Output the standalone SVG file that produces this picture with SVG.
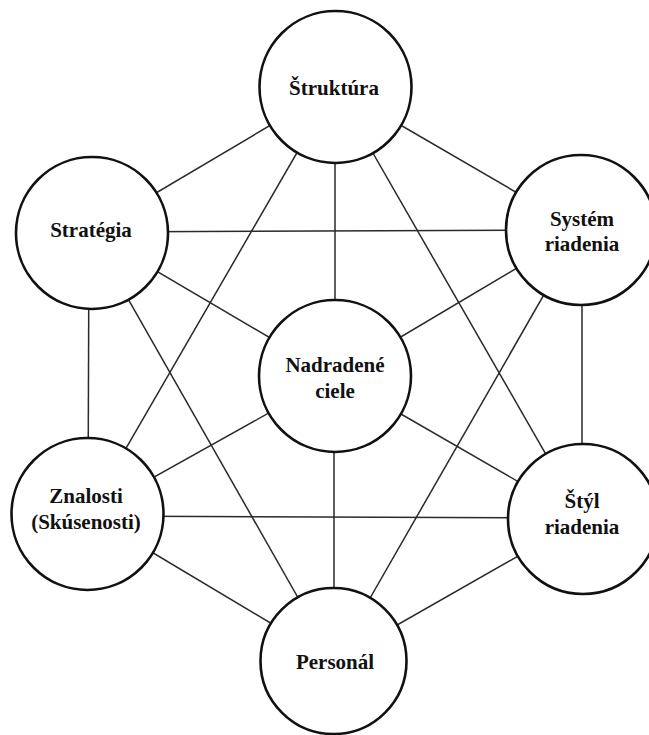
<svg xmlns="http://www.w3.org/2000/svg" width="649" height="735" viewBox="0 0 649 735">
  <style>
    .link { stroke: #2a2a2a; stroke-width: 1.5; fill: none; }
    .node circle { fill: #ffffff; stroke: #111111; stroke-width: 2.6; }
    .node text { font-family: "Liberation Serif", "Times New Roman", serif; font-weight: bold; font-size: 21px; fill: #111111; text-anchor: middle; }
  </style>
  <rect width="649" height="735" fill="#ffffff"/>

  <!-- connectors: every pair of factors, drawn centre to centre beneath the circles -->
  <g id="connectors">
    <line class="link" x1="335" y1="87" x2="90" y2="232"/>
    <line class="link" x1="335" y1="87" x2="581" y2="230"/>
    <line class="link" x1="335" y1="87" x2="335" y2="376"/>
    <line class="link" x1="335" y1="87" x2="88" y2="514"/>
    <line class="link" x1="335" y1="87" x2="583" y2="519"/>
    <line class="link" x1="90" y1="232" x2="581" y2="230"/>
    <line class="link" x1="90" y1="232" x2="335" y2="376"/>
    <line class="link" x1="89" y1="232" x2="88" y2="514"/>
    <line class="link" x1="90" y1="232" x2="334" y2="661"/>
    <line class="link" x1="581" y1="230" x2="335" y2="376"/>
    <line class="link" x1="582" y1="230" x2="582" y2="519"/>
    <line class="link" x1="581" y1="230" x2="334" y2="661"/>
    <line class="link" x1="335" y1="376" x2="88" y2="514"/>
    <line class="link" x1="335" y1="376" x2="583" y2="519"/>
    <line class="link" x1="334" y1="376" x2="334" y2="661"/>
    <line class="link" x1="88" y1="516" x2="583" y2="518"/>
    <line class="link" x1="88" y1="514" x2="334" y2="661"/>
    <line class="link" x1="583" y1="519" x2="334" y2="661"/>
  </g>

  <g id="struktura" class="node">
    <circle cx="335.5" cy="87" r="76"/>
    <text x="334" y="95">Štruktúra</text>
  </g>

  <g id="strategia" class="node">
    <circle cx="92" cy="233" r="76"/>
    <text x="91" y="237">Stratégia</text>
  </g>

  <g id="system-riadenia" class="node">
    <circle cx="581" cy="230" r="75"/>
    <text x="582" y="226">Systém</text>
    <text x="582" y="251">riadenia</text>
  </g>

  <g id="nadradene-ciele" class="node">
    <circle cx="335" cy="376" r="76"/>
    <text x="335" y="372">Nadradené</text>
    <text x="335" y="398">ciele</text>
  </g>

  <g id="znalosti" class="node">
    <circle cx="87.5" cy="514" r="76"/>
    <text x="86" y="503">Znalosti</text>
    <text x="86" y="529">(Skúsenosti)</text>
  </g>

  <g id="styl-riadenia" class="node">
    <circle cx="583" cy="519" r="75"/>
    <text x="582" y="508">Štýl</text>
    <text x="582" y="534">riadenia</text>
  </g>

  <g id="personal" class="node">
    <circle cx="333.5" cy="661" r="73"/>
    <text x="335" y="669">Personál</text>
  </g>
</svg>
